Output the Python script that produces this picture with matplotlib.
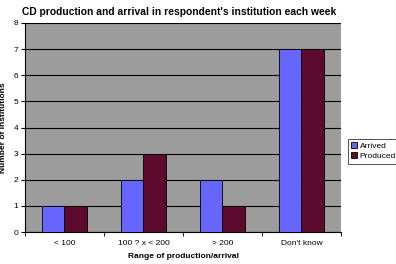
import matplotlib
matplotlib.use('Agg')
import matplotlib.pyplot as plt
import numpy as np

CATEGORIES = ['< 100', '100 ? x < 200', '> 200', "Don't know"]
ARRIVED = [1, 2, 2, 7]
PRODUCED = [1, 3, 1, 7]

plt.rcParams['font.family'] = ['Liberation Sans', 'DejaVu Sans']

fig = plt.figure(figsize=(3.96, 2.64), dpi=100)
ax = fig.add_axes([0.063, 0.121, 0.798, 0.792])
ax.set_facecolor('#9c9c9c')

x = np.arange(len(CATEGORIES))
w = 0.29
ax.bar(x - w / 2, ARRIVED, w, color='#6666ff', edgecolor='black', linewidth=0.6, label='Arrived', zorder=3)
ax.bar(x + w / 2, PRODUCED, w, color='#5c0a2e', edgecolor='black', linewidth=0.6, label='Produced', zorder=3)

ax.set_xlim(-0.5, 3.5)
ax.set_ylim(0, 8)
ax.set_yticks(range(0, 9))
ax.yaxis.grid(True, color='black', linewidth=0.8, zorder=1)
ax.set_xticks(x)
ax.set_xticklabels(CATEGORIES)
ax.set_xticks(np.arange(-0.5, 4, 1), minor=True)
ax.tick_params(axis='x', which='major', length=0, labelsize=6, pad=6)
ax.tick_params(axis='x', which='minor', length=3)
ax.tick_params(axis='y', labelsize=6, length=3, pad=2)
for s in ['top', 'right']:
    ax.spines[s].set_visible(False)

ax.set_xlabel('Range of production/arrival', fontsize=6, fontweight='bold', labelpad=4)
ax.set_ylabel('Number of institutions', fontsize=6, fontweight='bold')
ax.yaxis.set_label_coords(-0.058, 0.5)

fig.text(0.056, 0.955, "CD production and arrival in respondent's institution each week",
         fontsize=7.4, fontweight='bold', ha='left', va='center')

leg = fig.legend(loc='upper left', bbox_to_anchor=(0.868, 0.49), fontsize=6,
                 frameon=True, fancybox=False, edgecolor='black', handlelength=0.7,
                 handleheight=0.7, handletextpad=0.3, borderpad=0.4, labelspacing=0.3)
leg.get_frame().set_linewidth(0.6)

fig.savefig('out.png', dpi=100)
